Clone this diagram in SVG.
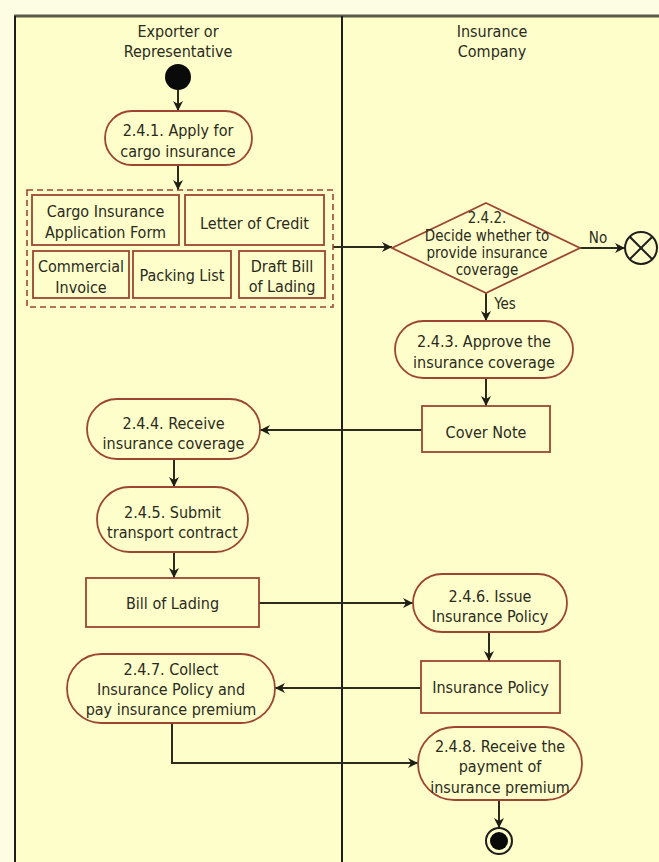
<svg xmlns="http://www.w3.org/2000/svg" width="659" height="862" viewBox="0 0 659 862">
  <style>
    text { font-family: "DejaVu Sans Condensed", "DejaVu Sans", sans-serif; font-stretch: condensed; font-size: 16px; fill: #2a2a20; text-anchor: middle; }
    .small { font-size: 15px; }
    .lbl { font-size: 15px; }
    .act { fill: #FEFECB; stroke: #9c4632; stroke-width: 1.8; }
    .obj { fill: #FEFECB; stroke: #9c4632; stroke-width: 1.8; }
    .group { fill: none; stroke: #9c4632; stroke-width: 1.6; stroke-dasharray: 6 4; }
    .lane { stroke: #1e1e1e; stroke-width: 2; fill: none; }
    .edge { stroke: #2b2b1e; stroke-width: 2; fill: none; marker-end: url(#arrow); }
  </style>
  <defs>
    <marker id="arrow" markerUnits="userSpaceOnUse" markerWidth="12" markerHeight="12" refX="11" refY="6" orient="auto">
      <path d="M1,1 L11,6 L1,11 L4,6 z" fill="#1e1e14"/>
    </marker>
  </defs>

  <!-- page and swimlane frame -->
  <rect x="0" y="0" width="659" height="862" fill="#FDFDE4"/>
  <rect x="15" y="16" width="644" height="846" fill="#FEFECB"/>
  <g id="lanes">
    <line x1="14" y1="16" x2="659" y2="16" stroke="#5a5a48" stroke-width="3"/>
    <line class="lane" x1="15" y1="16" x2="15" y2="862"/>
    <line class="lane" x1="342" y1="16" x2="342" y2="862"/>
    <text x="178" y="37">Exporter or</text>
    <text x="178" y="57">Representative</text>
    <text x="492" y="37">Insurance</text>
    <text x="492" y="57">Company</text>
  </g>

  <!-- connectors -->
  <g id="connectors">
    <line class="edge" x1="178" y1="90" x2="178" y2="111"/>
    <line class="edge" x1="178" y1="165" x2="178" y2="190"/>
    <line class="edge" x1="333" y1="247" x2="392" y2="247"/>
    <line class="edge" x1="580" y1="248" x2="625" y2="248"/>
    <text class="lbl" x="598" y="243">No</text>
    <line class="edge" x1="486" y1="293" x2="486" y2="321"/>
    <text class="lbl" x="505" y="309">Yes</text>
    <line class="edge" x1="486" y1="378" x2="486" y2="406"/>
    <line class="edge" x1="422" y1="430" x2="260" y2="430"/>
    <line class="edge" x1="174" y1="459" x2="174" y2="487"/>
    <line class="edge" x1="174" y1="552" x2="174" y2="578"/>
    <line class="edge" x1="259" y1="603" x2="413" y2="603"/>
    <line class="edge" x1="489" y1="632" x2="489" y2="661"/>
    <line class="edge" x1="421" y1="688" x2="275" y2="688"/>
    <polyline class="edge" points="172,723 172,763 418,763"/>
    <line class="edge" x1="499" y1="800" x2="499" y2="828"/>
  </g>

  <!-- start -->
  <g id="start">
    <circle cx="178" cy="77" r="13" fill="#0a0a0a"/>
  </g>

  <g id="a241">
    <rect class="act" x="105" y="111" width="147" height="54" rx="27"/>
    <text x="178" y="136">2.4.1. Apply for</text>
    <text x="178" y="157">cargo insurance</text>
  </g>

  <!-- document bundle -->
  <g id="documents">
    <rect class="group" x="27" y="190" width="306" height="117"/>
    <g id="doc-application">
      <rect class="obj" x="32" y="195" width="147" height="50"/>
      <text x="105.5" y="217">Cargo Insurance</text>
      <text x="105.5" y="238">Application Form</text>
    </g>
    <g id="doc-lc">
      <rect class="obj" x="185" y="195" width="139" height="50"/>
      <text x="254.5" y="229">Letter of Credit</text>
    </g>
    <g id="doc-invoice">
      <rect class="obj" x="33" y="251" width="96" height="47"/>
      <text x="81" y="272">Commercial</text>
      <text x="81" y="293">Invoice</text>
    </g>
    <g id="doc-packing">
      <rect class="obj" x="133" y="251" width="98" height="47"/>
      <text x="182" y="281">Packing List</text>
    </g>
    <g id="doc-draft-bl">
      <rect class="obj" x="239" y="251" width="86" height="47"/>
      <text x="282" y="272">Draft Bill</text>
      <text x="282" y="292">of Lading</text>
    </g>
  </g>

  <g id="d242">
    <polygon class="act" points="486,203 580,248 486,293 392,248"/>
    <text class="small" x="487" y="223">2.4.2.</text>
    <text class="small" x="487" y="241">Decide whether to</text>
    <text class="small" x="487" y="258">provide insurance</text>
    <text class="small" x="487" y="275">coverage</text>
  </g>

  <g id="reject-end">
    <circle cx="641" cy="248" r="16" fill="#FEFECB" stroke="#1e1e1e" stroke-width="2"/>
    <line x1="629.7" y1="236.7" x2="652.3" y2="259.3" stroke="#1e1e1e" stroke-width="2"/>
    <line x1="652.3" y1="236.7" x2="629.7" y2="259.3" stroke="#1e1e1e" stroke-width="2"/>
  </g>

  <g id="a243">
    <rect class="act" x="395" y="321" width="178" height="57" rx="28.5"/>
    <text x="484" y="347">2.4.3. Approve the</text>
    <text x="484" y="368">insurance coverage</text>
  </g>

  <g id="cover-note">
    <rect class="obj" x="422" y="406" width="128" height="46"/>
    <text x="486" y="438">Cover Note</text>
  </g>

  <g id="a244">
    <rect class="act" x="87" y="399" width="173" height="60" rx="30"/>
    <text x="173.5" y="429">2.4.4. Receive</text>
    <text x="173.5" y="449">insurance coverage</text>
  </g>

  <g id="a245">
    <rect class="act" x="97" y="487" width="151" height="65" rx="32.5"/>
    <text x="172.5" y="518">2.4.5. Submit</text>
    <text x="172.5" y="538">transport contract</text>
  </g>

  <g id="bill-of-lading">
    <rect class="obj" x="86" y="578" width="173" height="49"/>
    <text x="172.5" y="609">Bill of Lading</text>
  </g>

  <g id="a246">
    <rect class="act" x="413" y="574" width="154" height="58" rx="29"/>
    <text x="490" y="602">2.4.6. Issue</text>
    <text x="490" y="622">Insurance Policy</text>
  </g>

  <g id="insurance-policy">
    <rect class="obj" x="421" y="661" width="139" height="52"/>
    <text x="490.5" y="693">Insurance Policy</text>
  </g>

  <g id="a247">
    <rect class="act" x="67" y="654" width="208" height="69" rx="34.5"/>
    <text x="171" y="675">2.4.7. Collect</text>
    <text x="171" y="695">Insurance Policy and</text>
    <text x="171" y="715">pay insurance premium</text>
  </g>

  <g id="a248">
    <rect class="act" x="418" y="727" width="164" height="73" rx="36.5"/>
    <text x="500" y="752">2.4.8. Receive the</text>
    <text x="500" y="772">payment of</text>
    <text x="500" y="793">insurance premium</text>
  </g>

  <g id="end">
    <circle cx="499" cy="841" r="13" fill="#FEFECB" stroke="#1e1e1e" stroke-width="2"/>
    <circle cx="499" cy="841" r="9" fill="#0a0a0a"/>
  </g>
</svg>
